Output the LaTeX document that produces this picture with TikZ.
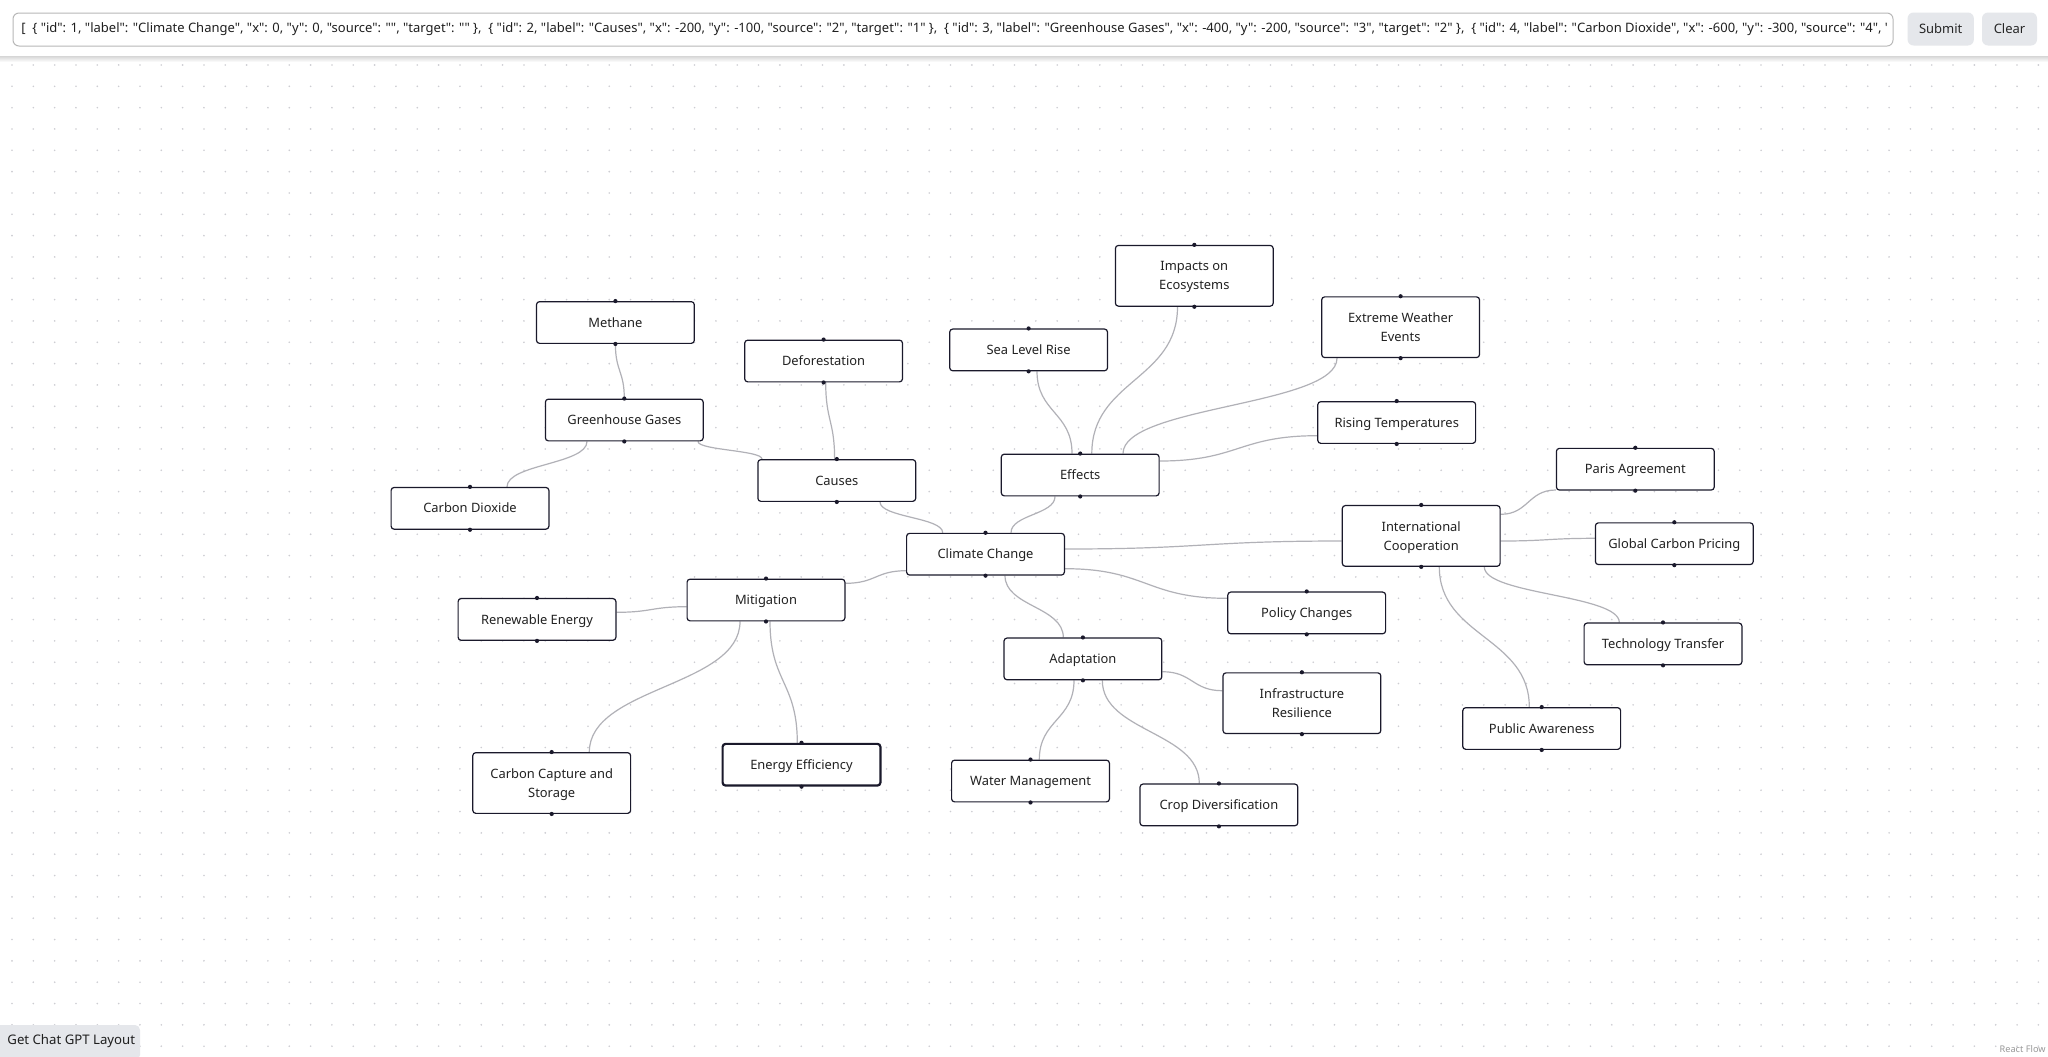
\documentclass[tikz,border=0pt]{standalone}
\usepackage{fontspec}
\setmainfont{Noto Sans}
\newfontfamily\plainfont{Noto Sans}[Ligatures=TeXOff]
\usetikzlibrary{calc}
\definecolor{nodeb}{HTML}{1A192B}
\definecolor{edgec}{HTML}{B1B1B7}
\definecolor{dotc}{HTML}{CDCDD2}
\definecolor{btnc}{HTML}{E5E7EB}
\definecolor{txt}{HTML}{222222}
\pgfdeclarelayer{bg}
\pgfsetlayers{bg,main}
\newcommand{\vedge}[2]{%
  \path #1 coordinate (e1) #2 coordinate (e2);
  \coordinate (em) at ($(e1)!0.5!(e2)$);
  \draw[conn] (e1) .. controls (e1 |- em) and (e2 |- em) .. (e2);}
\newcommand{\hedge}[2]{%
  \path #1 coordinate (e1) #2 coordinate (e2);
  \coordinate (em) at ($(e1)!0.5!(e2)$);
  \draw[conn] (e1) .. controls (em |- e1) and (em |- e2) .. (e2);}
\newcommand{\twol}[2]{\rule{0pt}{6.2pt}#1\\#2\rule[-1.6pt]{0pt}{1.6pt}}
\begin{document}
\begin{tikzpicture}[x=0.5pt,y=-0.5pt,
  box/.style={draw=nodeb, line width=0.6pt, fill=white, rounded corners=1.5pt,
    minimum width=78.9pt, minimum height=20.85pt, inner sep=0pt, align=center,
    font=\fontsize{6.45}{9.5}\selectfont, text=txt},
  one/.style={text height=4.6pt, text depth=0pt},
  tall/.style={minimum height=30.35pt},
  selbox/.style={line width=1.1pt},
  conn/.style={draw=edgec, line width=0.6pt},
  handle/.style={fill=nodeb},
  btnbox/.style={fill=btnc, rounded corners=3pt, inner sep=0pt, text=black!85,
    font=\fontsize{6.5}{8}\selectfont}]
\useasboundingbox (0,0) rectangle (2048,1056);
\begin{pgfonlayer}{bg}
\fill[white] (0,0) rectangle (2048,1056);
\foreach \i in {0,...,95} {
  \foreach \j in {3,...,49} {
    \fill[dotc] ({12+21.33*\i},{1+21.33*\j}) circle (0.45pt);
  }
}
\end{pgfonlayer}

% nodes
\node[box,one] (cc) at (985.5,554.2) {Climate Change};
\node[box,one] (causes) at (836.8,480.5) {Causes};
\node[box,one] (gg) at (624.3,420) {Greenhouse Gases};
\node[box,one] (co2) at (470,508.3) {Carbon Dioxide};
\node[box,one] (methane) at (615.4,322.5) {Methane};
\node[box,one] (defor) at (823.6,361) {Deforestation};
\node[box,one] (effects) at (1080.2,475) {Effects};
\node[box,one] (sea) at (1028.6,349.9) {Sea Level Rise};
\node[box,tall] (impacts) at (1194.3,275.8) {\twol{Impacts on}{Ecosystems}};
\node[box,tall] (extreme) at (1400.6,327.2) {\twol{Extreme Weather}{Events}};
\node[box,one] (rising) at (1396.7,422.5) {Rising Temperatures};
\node[box,tall] (ic) at (1421.2,535.9) {\twol{International}{Cooperation}};
\node[box,one] (paris) at (1635.3,469.2) {Paris Agreement};
\node[box,one] (gcp) at (1674.3,543.7) {Global Carbon Pricing};
\node[box,one] (tech) at (1663,643.9) {Technology Transfer};
\node[box,one] (public) at (1541.7,728.5) {Public Awareness};
\node[box,one] (policy) at (1306.7,612.9) {Policy Changes};
\node[box,one] (adapt) at (1082.9,658.9) {Adaptation};
\node[box,tall] (infra) at (1301.9,703.2) {\twol{Infrastructure}{Resilience}};
\node[box,one] (water) at (1030.5,781) {Water Management};
\node[box,one] (crop) at (1218.9,804.9) {Crop Diversification};
\node[box,one] (mitig) at (766,600) {Mitigation};
\node[box,one] (renew) at (537,619.4) {Renewable Energy};
\node[box,tall] (ccs) at (551.7,783) {\twol{Carbon Capture and}{Storage}};
\node[box,one,selbox] (ee) at (801.5,764.7) {Energy Efficiency};

% connectors
\begin{pgfonlayer}{bg}
\vedge{(methane.south)}{(gg.north)}
\vedge{($(gg.south)+(-37.3,0)$)}{($(co2.north)+(37,0)$)}
\vedge{($(gg.south)+(73.7,0)$)}{($(causes.north)+(-74.8,0)$)}
\vedge{($(defor.south)+(2.1,0)$)}{($(causes.north)+(-2.2,0)$)}
\vedge{($(causes.south)+(43.2,0)$)}{($(cc.north)+(-42.8,0)$)}
\vedge{($(sea.south)+(8.4,0)$)}{($(effects.north)+(-8.2,0)$)}
\vedge{($(impacts.south)+(-16.8,0)$)}{($(effects.north)+(11.6,0)$)}
\vedge{($(extreme.south)+(-63.6,0)$)}{($(effects.north)+(42.8,0)$)}
\hedge{($(effects.east)+(0,-14)$)}{($(rising.west)+(0,13.2)$)}
\vedge{($(effects.south)+(-25.2,0)$)}{($(cc.north)+(25.5,0)$)}
\hedge{($(mitig.east)+(0,-16.7)$)}{($(cc.west)+(0,16.5)$)}
\hedge{($(renew.east)+(0,-7.1)$)}{($(mitig.west)+(0,6.7)$)}
\vedge{($(mitig.south)+(-26,0)$)}{($(ccs.north)+(37.6,0)$)}
\vedge{($(mitig.south)+(4,0)$)}{($(ee.north)+(-4.2,0)$)}
\hedge{($(cc.east)+(0,-5.2)$)}{($(ic.west)+(0,5.1)$)}
\hedge{($(cc.east)+(0,14.5)$)}{($(policy.west)+(0,-14.6)$)}
\vedge{($(cc.south)+(19.5,0)$)}{($(adapt.north)+(-19.6,0)$)}
\hedge{($(adapt.east)+(0,12.8)$)}{($(infra.west)+(0,-12.5)$)}
\vedge{($(adapt.south)+(-8.9,0)$)}{($(water.north)+(8.8,0)$)}
\vedge{($(adapt.south)+(19.4,0)$)}{($(crop.north)+(-19.6,0)$)}
\hedge{($(ic.east)+(0,-21.6)$)}{($(paris.west)+(0,20.8)$)}
\hedge{($(ic.east)+(0,5.1)$)}{($(gcp.west)+(0,-5.4)$)}
\vedge{($(ic.south)+(63.1,0)$)}{($(tech.north)+(-43.7,0)$)}
\vedge{($(ic.south)+(18.1,0)$)}{($(public.north)+(-12.4,0)$)}
\end{pgfonlayer}

% handles
\foreach \n in {cc,causes,gg,co2,methane,defor,effects,sea,impacts,extreme,rising,ic,paris,gcp,tech,public,policy,adapt,infra,water,crop,mitig,renew,ccs,ee} {
  \fill[handle] (\n.north) circle (1.05pt);
  \fill[handle] (\n.south) circle (1.05pt);
}

% top bar
\fill[white] (0,0) rectangle (2048,56);
\shade[top color=black!16, bottom color=white] (0,56) rectangle (2048,62);
\draw[draw=black!28, line width=0.5pt, rounded corners=3pt, fill=white] (13,13) rectangle (1893,46);
\begin{scope}
\clip (14,13) rectangle (1887,46);
\node[anchor=west, inner sep=0pt, text=black!88, font=\plainfont\fontsize{6.5}{8}\selectfont] (inp) at (21,29.5)
 {[~~\{ "id": 1, "label": "Climate Change", "x": 0, "y": 0, "source": "", "target": "" \},~~\{ "id": 2, "label": "Causes", "x": -200, "y": -100, "source": "2", "target": "1" \},~~\{ "id": 3, "label": "Greenhouse Gases", "x": -400, "y": -200, "source": "3", "target": "2" \},~~\{ "id": 4, "label": "Carbon Dioxide", "x": -600, "y": -300, "source": "4", "};
\end{scope}
\node[btnbox, minimum width=33.15pt, minimum height=16.5pt] (submit) at (1940.7,29) {Submit};
\node[btnbox, minimum width=27.5pt, minimum height=16.5pt] (clear) at (2009.5,29) {Clear};

% bottom widgets
\fill[btnc] (0,1025) [rounded corners=2.5pt] -- (140,1025) -- (140,1060) [sharp corners] -- (0,1060) -- cycle;
\node[anchor=west, inner sep=0pt, text=black!88, font=\fontsize{6.6}{8}\selectfont] (gpt) at (7,1041.5) {Get Chat GPT Layout};
\node[anchor=east, inner sep=0pt, text=black!40, font=\fontsize{4.6}{6}\selectfont] (rf) at (2046,1049) {React Flow};
\end{tikzpicture}
\end{document}
